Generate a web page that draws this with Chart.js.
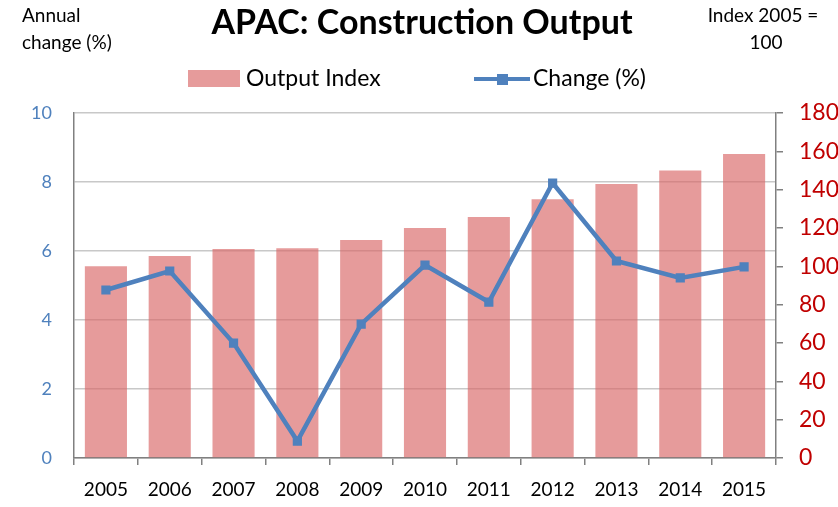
<!DOCTYPE html>
<html>
<head>
<meta charset="utf-8">
<script src="https://cdn.jsdelivr.net/npm/chart.js@4.4.1/dist/chart.umd.min.js"></script>
<style>
  html, body { margin: 0; padding: 0; background: #fff; }
  #wrap { width: 838px; height: 507px; position: relative; }
</style>
</head>
<body>
<div id="wrap"><canvas id="chart" width="838" height="507"></canvas></div>
<script>
// Data dari gambar
const years = ["2005", "2006", "2007", "2008", "2009", "2010", "2011", "2012", "2013", "2014", "2015"];
const outputIndex = [100, 105.4, 109, 109.5, 113.7, 120, 125.7, 135, 143, 150, 158.6];
const changePct = [4.87, 5.42, 3.33, 0.49, 3.88, 5.59, 4.52, 7.97, 5.71, 5.22, 5.54];
const leftTicks = [0, 2, 4, 6, 8, 10];
const rightTicks = [0, 20, 40, 60, 80, 100, 120, 140, 160, 180];

const FONT = "Lato, 'Open Sans', sans-serif";
const BLUE = "#4F81BD";
const RED = "#C00000";
const BAR_FILL = "rgba(217, 102, 102, 0.65)";

// Plugin buat judul, legend, dan teks pojok
const decorPlugin = {
  id: "decor",
  afterDraw(chart) {
    const ctx = chart.ctx;
    ctx.save();
    ctx.fillStyle = "#000";
    ctx.textBaseline = "middle";

    // judul
    ctx.font = "bold 34px " + FONT;
    ctx.textAlign = "center";
    ctx.fillText("APAC: Construction Output", 422, 23);

    // teks pojok kiri
    ctx.font = "19px " + FONT;
    ctx.textAlign = "left";
    ctx.fillText("Annual", 22, 16);
    ctx.fillText("change (%)", 22, 43);

    // teks pojok kanan
    ctx.textAlign = "center";
    ctx.fillText("Index 2005 =", 763, 16);
    ctx.fillText("100", 766, 43);

    // legend
    ctx.fillStyle = BAR_FILL;
    ctx.fillRect(188, 70, 52, 17);
    ctx.fillStyle = "#000";
    ctx.font = "23px " + FONT;
    ctx.textAlign = "left";
    ctx.fillText("Output Index", 246, 79);

    ctx.strokeStyle = BLUE;
    ctx.lineWidth = 4;
    ctx.beginPath();
    ctx.moveTo(474, 79);
    ctx.lineTo(530, 79);
    ctx.stroke();
    ctx.fillStyle = BLUE;
    ctx.fillRect(497, 74, 11, 11);
    ctx.fillStyle = "#000";
    ctx.fillText("Change (%)", 533, 79);
    ctx.restore();
  }
};

const ctx = document.querySelector("#chart");

new Chart(ctx, {
  type: "bar",
  data: {
    labels: years,
    datasets: [
      {
        type: "line",
        label: "Change (%)",
        data: changePct,
        yAxisID: "y",
        borderColor: BLUE,
        backgroundColor: BLUE,
        borderWidth: 4.5,
        pointStyle: "rect",
        pointRadius: 6.5,
        pointBorderWidth: 0,
        tension: 0,
        order: 0,
      },
      {
        type: "bar",
        label: "Output Index",
        data: outputIndex,
        yAxisID: "y1",
        backgroundColor: BAR_FILL,
        borderWidth: 0,
        barPercentage: 0.66,
        categoryPercentage: 1,
        order: 1,
      },
    ],
  },
  options: {
    responsive: false,
    animation: false,
    layout: { padding: { top: 113, left: 0, right: 0, bottom: 0 } },
    plugins: {
      legend: { display: false },
      tooltip: { enabled: false },
    },
    scales: {
      x: {
        offset: true,
        grid: {
          display: true,
          drawOnChartArea: false,
          drawTicks: true,
          tickLength: 7,
          color: "#808080",
          lineWidth: 1.5,
          offset: true,
        },
        border: { color: "#808080", width: 1.5 },
        ticks: {
          color: "#000",
          font: { family: FONT, size: 19 },
          padding: 13,
        },
        afterFit(scale) { scale.height = 49; },
      },
      y: {
        position: "left",
        min: 0,
        max: 10,
        afterBuildTicks(scale) { scale.ticks = leftTicks.map(v => ({ value: v })); },
        grid: { color: "#C8C8C8", lineWidth: 1.5, drawTicks: false },
        border: { color: "#808080", width: 1.5 },
        ticks: {
          color: BLUE,
          font: { family: FONT, size: 18 },
          padding: 22,
        },
        afterFit(scale) { scale.width = 74; },
      },
      y1: {
        position: "right",
        min: 0,
        max: 180,
        afterBuildTicks(scale) { scale.ticks = rightTicks.map(v => ({ value: v })); },
        grid: {
          drawOnChartArea: false,
          drawTicks: true,
          tickLength: 7,
          color: "#808080",
          lineWidth: 1.5,
        },
        border: { color: "#808080", width: 1.5 },
        ticks: {
          color: RED,
          font: { family: FONT, size: 23 },
          padding: 16,
        },
        afterFit(scale) { scale.width = 62; },
      },
    },
  },
  plugins: [decorPlugin],
});
</script>
</body>
</html>
